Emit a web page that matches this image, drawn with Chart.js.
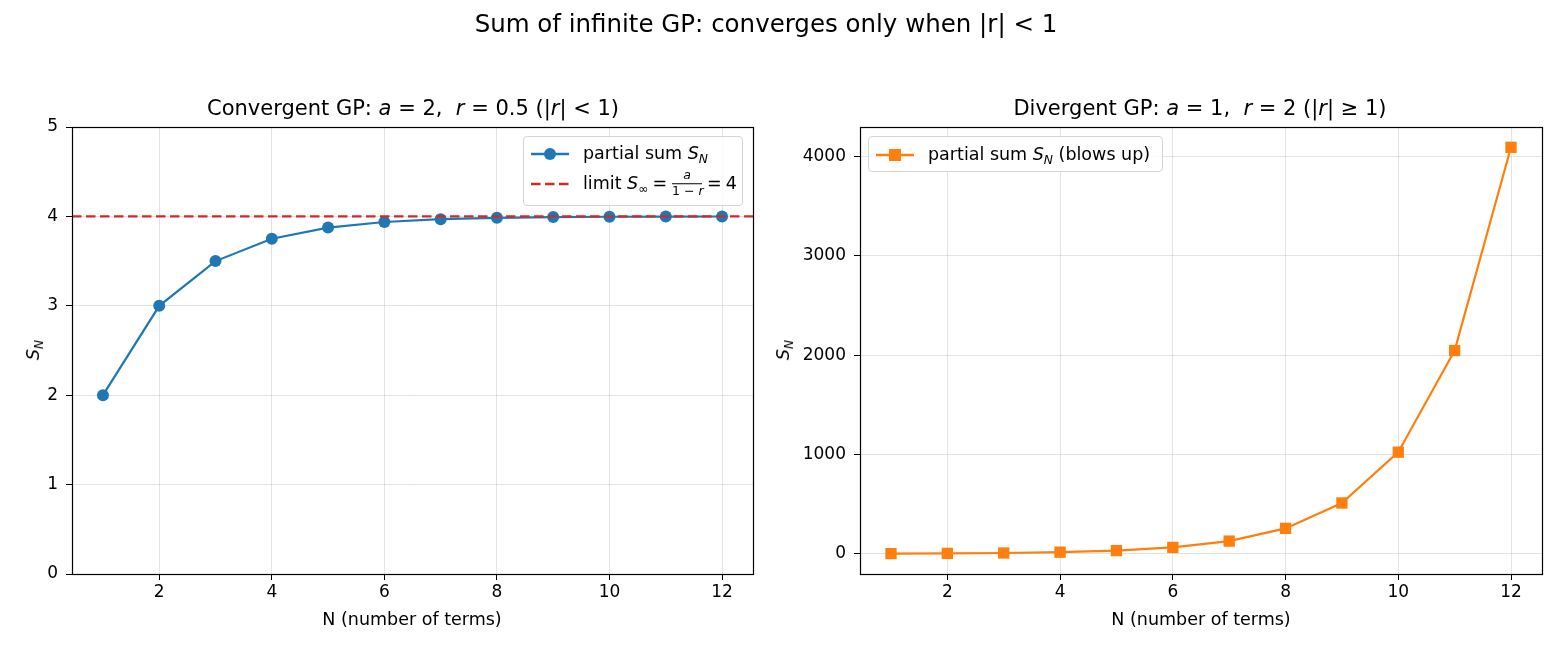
<!DOCTYPE html>
<html>
<head>
<meta charset="utf-8">
<script src="https://cdn.jsdelivr.net/npm/chart.js@4.4.1/dist/chart.umd.min.js"></script>
<style>
  body { margin: 0; background: #fff; font-family: "DejaVu Sans", sans-serif; color: #000; }
  #fig { position: relative; width: 1560px; height: 650px; overflow: hidden; }
  canvas { position: absolute; top: 0; }
  .txt { position: absolute; white-space: nowrap; transform: translate(-50%, -50%); }
  .sup { font-size: 24.5px; }
  .ttl { font-size: 21px; }
  .lbl { font-size: 17.5px; }
  .ylbl { transform: translate(-50%, -50%) rotate(-90deg); }
  i { font-style: italic; }
  sub { font-size: 70%; vertical-align: -0.3em; line-height: 0; }
  .legend { position: absolute; border: 1px solid #d4d4d4; border-radius: 4px; background: rgba(255,255,255,0.85); box-sizing: border-box; }
  .row { position: absolute; left: 0; height: 0; font-size: 17.5px; white-space: nowrap; }
  .row svg { position: absolute; left: 6px; top: -8px; }
  .row span.t { position: absolute; left: 59px; top: 0; transform: translateY(-50%); line-height: 1; }
  .sp { display: inline-block; width: 4px; }
  .frac { display: inline-block; position: relative; width: 30px; height: 10px; margin: 0 1px; }
  .frac .num, .frac .den { position: absolute; left: 0; width: 100%; text-align: center; font-size: 12.5px; line-height: 1; }
  .frac .num { top: -10px; }
  .frac .den { top: 6px; }
  .frac .bar { position: absolute; left: 0; width: 100%; top: 4px; border-top: 1px solid #000; }
</style>
</head>
<body>
<div id="fig">
  <canvas id="leftChart" width="780" height="650" style="left:0"></canvas>
  <canvas id="rightChart" width="780" height="650" style="left:780px"></canvas>

  <div class="txt sup" style="left:766px;top:23px">Sum of infinite GP: converges only when |r| &lt; 1</div>

  <div class="txt ttl" style="left:413px;top:108px">Convergent GP: <i>a</i> = 2,&nbsp; <i>r</i> = 0.5 (|<i>r</i>| &lt; 1)</div>
  <div class="txt ttl" style="left:1200px;top:108px">Divergent GP: <i>a</i> = 1,&nbsp; <i>r</i> = 2 (|<i>r</i>| ≥ 1)</div>

  <div class="txt lbl" style="left:412px;top:619px">N (number of terms)</div>
  <div class="txt lbl" style="left:1201px;top:619px">N (number of terms)</div>

  <div class="txt lbl ylbl" style="left:33px;top:350px"><i>S</i><sub><i>N</i></sub></div>
  <div class="txt lbl ylbl" style="left:783px;top:350px"><i>S</i><sub><i>N</i></sub></div>

  <div class="legend" style="left:523px;top:136px;width:220px;height:70px">
    <div class="row" style="top:17px">
      <svg width="40" height="16"><line x1="1" y1="8" x2="39" y2="8" stroke="#1f77b4" stroke-width="2.4"/><circle cx="20" cy="8" r="6" fill="#1f77b4"/></svg>
      <span class="t">partial sum <i>S</i><sub><i>N</i></sub></span>
    </div>
    <div class="row" style="top:47px">
      <svg width="40" height="16"><line x1="1" y1="8" x2="39" y2="8" stroke="#d62728" stroke-width="2.4" stroke-dasharray="9.5 4.5"/></svg>
      <span class="t">limit <i>S</i><sub>∞</sub><span class="sp"></span>=<span class="sp"></span><span class="frac"><span class="num"><i>a</i></span><span class="bar"></span><span class="den">1 − <i>r</i></span></span><span class="sp"></span>=<span class="sp"></span>4</span>
    </div>
  </div>

  <div class="legend" style="left:868px;top:136px;width:295px;height:36px">
    <div class="row" style="top:18px">
      <svg width="40" height="16"><line x1="1" y1="8" x2="39" y2="8" stroke="#ff7f0e" stroke-width="2.4"/><rect x="14" y="2" width="12" height="12" fill="#ff7f0e"/></svg>
      <span class="t">partial sum <i>S</i><sub><i>N</i></sub> (blows up)</span>
    </div>
  </div>
</div>

<script>
  // data
  var nTerms = [1, 2, 3, 4, 5, 6, 7, 8, 9, 10, 11, 12];
  var convergentSums = [2, 3, 3.5, 3.75, 3.875, 3.9375, 3.96875, 3.984375, 3.9921875, 3.99609375, 3.998046875, 3.9990234375];
  var divergentSums = [1, 3, 7, 15, 31, 63, 127, 255, 511, 1023, 2047, 4095];
  var limitValue = 4;

  var xTicks = [2, 4, 6, 8, 10, 12];
  var xRange = [0.45, 12.55];
  var leftYTicks = [0, 1, 2, 3, 4, 5];
  var leftYRange = [0, 5];
  var rightYTicks = [0, 1000, 2000, 3000, 4000];
  var rightYRange = [-204.7, 4299.7];

  var tickFont = { family: "'DejaVu Sans', sans-serif", size: 17 };

  // box around the plot area, like matplotlib spines
  var framePlugin = {
    id: 'frame',
    afterDraw: function(chart) {
      var a = chart.chartArea, ctx = chart.ctx;
      ctx.save();
      ctx.strokeStyle = '#000';
      ctx.lineWidth = 1.2;
      ctx.strokeRect(Math.round(a.left) + 0.5, Math.round(a.top) + 0.5,
        Math.round(a.right - a.left), Math.round(a.bottom - a.top));
      ctx.restore();
    }
  };

  // horizontal dashed limit line (axhline)
  var limitPlugin = {
    id: 'limitLine',
    afterDatasetsDraw: function(chart) {
      var a = chart.chartArea, ctx = chart.ctx;
      var y = chart.scales.y.getPixelForValue(limitValue);
      ctx.save();
      ctx.strokeStyle = '#d62728';
      ctx.lineWidth = 2.4;
      ctx.setLineDash([9.5, 4.5]);
      ctx.beginPath();
      ctx.moveTo(a.left, y);
      ctx.lineTo(a.right, y);
      ctx.stroke();
      ctx.restore();
    }
  };

  function toPoints(ys) {
    return nTerms.map(function(n, i) { return { x: n, y: ys[i] }; });
  }

  function makeChart(id, cfg) {
    var ctx = document.getElementById(id).getContext('2d');
    return new Chart(ctx, {
      type: 'line',
      data: {
        datasets: [{
          data: toPoints(cfg.values),
          borderColor: cfg.color,
          backgroundColor: cfg.color,
          borderWidth: 2.2,
          pointStyle: cfg.pointStyle,
          pointRadius: cfg.pointRadius,
          pointBackgroundColor: cfg.color,
          pointBorderColor: cfg.color,
          pointBorderWidth: 0,
          tension: 0,
          fill: false
        }]
      },
      options: {
        responsive: false,
        animation: false,
        layout: { padding: { left: 0, top: 127, right: cfg.padRight, bottom: 0 } },
        plugins: { legend: { display: false }, tooltip: { enabled: false } },
        scales: {
          x: {
            type: 'linear',
            min: xRange[0],
            max: xRange[1],
            afterBuildTicks: function(scale) { scale.ticks = xTicks.map(function(v) { return { value: v }; }); },
            afterFit: function(scale) { scale.height = 76; },
            grid: { color: 'rgba(176,176,176,0.35)', lineWidth: 1, tickColor: '#000', tickLength: 6 },
            border: { display: false },
            ticks: { font: tickFont, color: '#000', padding: 2, maxRotation: 0 }
          },
          y: {
            type: 'linear',
            min: cfg.yRange[0],
            max: cfg.yRange[1],
            afterBuildTicks: function(scale) { scale.ticks = cfg.yTicks.map(function(v) { return { value: v }; }); },
            afterFit: function(scale) { scale.width = cfg.yWidth; },
            grid: { color: 'rgba(176,176,176,0.35)', lineWidth: 1, tickColor: '#000', tickLength: 6 },
            border: { display: false },
            ticks: { font: tickFont, color: '#000', padding: 8, callback: function(v) { return String(v); } }
          }
        }
      },
      plugins: cfg.plugins
    });
  }

  makeChart('leftChart', {
    values: convergentSums,
    color: '#1f77b4',
    pointStyle: 'circle',
    pointRadius: 6,
    yRange: leftYRange,
    yTicks: leftYTicks,
    yWidth: 72,
    padRight: 27,
    plugins: [limitPlugin, framePlugin]
  });

  makeChart('rightChart', {
    values: divergentSums,
    color: '#ff7f0e',
    pointStyle: 'rect',
    pointRadius: 8,
    yRange: rightYRange,
    yTicks: rightYTicks,
    yWidth: 80,
    padRight: 18,
    plugins: [framePlugin]
  });
</script>
</body>
</html>
